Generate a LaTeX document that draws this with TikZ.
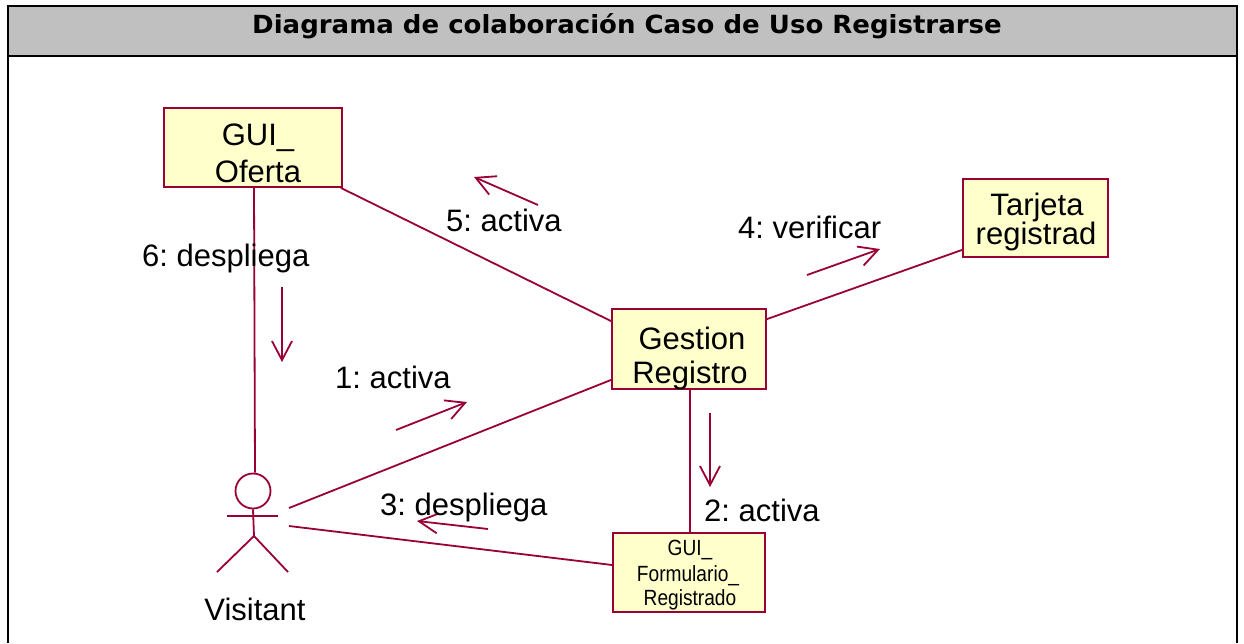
\documentclass[tikz,border=0pt]{standalone}
\usepackage{fontspec}
\usepackage{graphicx}
\setmainfont{Liberation Sans}
\newfontfamily\hdrfont{DejaVu Sans}
\usetikzlibrary{arrows.meta}
\definecolor{umlred}{HTML}{990033}
\definecolor{umlfill}{HTML}{FFFFCC}
\definecolor{hdrgray}{HTML}{C0C0C0}
\frenchspacing
\begin{document}
\begin{tikzpicture}[x=1pt,y=-1pt,
  obj/.style={draw=umlred, fill=umlfill, line width=1.8pt, inner sep=0pt},
  boxtxt/.style={anchor=base, inner sep=0pt, font=\fontsize{31}{36}\selectfont},
  smalltxt/.style={anchor=base, inner sep=0pt, font=\fontsize{22}{25}\selectfont},
  lbl/.style={anchor=base west, inner sep=0pt, font=\fontsize{31}{36}\selectfont},
  link/.style={draw=umlred, line width=1.8pt},
  msg/.style={draw=umlred, line width=1.8pt, -{Straight Barb[length=19pt,width=20pt,line width=1.8pt]}},
]
\useasboundingbox (0,0) rectangle (1244,643);
\fill[white] (0,0) rectangle (1244,643);
% header
\fill[hdrgray] (8,6) rectangle (1237,56);
\draw[line width=2.2pt] (8,643) -- (8,6) -- (1237,6) -- (1237,643);
\draw[line width=2.2pt] (8,56) -- (1237,56);
\node[anchor=base, inner sep=0pt] (title) at (627,33) {\scalebox{1.04}[1]{\hdrfont\bfseries\fontsize{25}{29}\selectfont Diagrama de colaboración Caso de Uso Registrarse}};

% objects
\node[obj, minimum width=178pt, minimum height=79pt] (ofe) at (253,147.5) {};
\node[boxtxt] (ofe1) at (258,145) {GUI\_};
\node[boxtxt] (ofe2) at (258,182) {Oferta};

\node[obj, minimum width=154pt, minimum height=80pt] (ges) at (689,349) {};
\node[boxtxt] (ges1) at (692,349) {Gestion};
\node[boxtxt] (ges2) at (690,383) {Registro};

\node[obj, minimum width=145pt, minimum height=78pt] (tar) at (1035.5,218) {};
\node[boxtxt] (tar1) at (1037,215) {Tarjeta};
\node[boxtxt] (tar2) at (1036,244) {registrad};

\node[obj, minimum width=152pt, minimum height=79pt] (frm) at (689,572.5) {};
\node[smalltxt] (frm1) at (690,555) {\scalebox{0.87}[1]{GUI\_}};
\node[smalltxt] (frm2) at (688,581) {\scalebox{0.87}[1]{Formulario\_}};
\node[smalltxt] (frm3) at (690,605) {\scalebox{0.87}[1]{Registrado}};

% actor
\node[draw=umlred, line width=1.8pt, circle, minimum size=35pt, inner sep=0pt] (head) at (253,491) {};
\coordinate (hip) at (254,536);
\coordinate (armL) at (227,516);
\coordinate (armR) at (278,516);
\coordinate (legL) at (217,572);
\coordinate (legR) at (288,572);
\draw[link] (head.south) -- (hip);
\draw[link] (armL) -- (armR);
\draw[link] (legL) -- (hip) -- (legR);
\coordinate (visA) at (289,508);
\coordinate (visB) at (289,526);
\node[anchor=base, inner sep=0pt, font=\fontsize{31}{36}\selectfont] (vis) at (255,620) {Visitant};

% links
\draw[link] ([xshift=1pt]ofe.south) -- ([xshift=2pt]head.north);
\draw[link] ([xshift=-2pt]ofe.south east) -- ([yshift=-13pt]ges.north west);
\draw[link] ([yshift=-11pt]ges.north east) -- ([yshift=8pt]tar.south west);
\draw[link] ([yshift=10pt]ges.south west) -- (visA);
\draw[link] ([xshift=1pt]ges.south) -- ([xshift=1pt]frm.north);
\draw[link] (visB) -- ([yshift=7.5pt]frm.west);

% messages
\coordinate (m5a) at (538,205); \coordinate (m5b) at (474,177);
\coordinate (m4a) at (807,275); \coordinate (m4b) at (880,249);
\coordinate (m6a) at (282,287); \coordinate (m6b) at (282,362);
\coordinate (m1a) at (396,430); \coordinate (m1b) at (467,402);
\coordinate (m2a) at (710,413); \coordinate (m2b) at (710,487);
\coordinate (m3a) at (488,529); \coordinate (m3b) at (417,521);
\draw[msg] (m5a) -- (m5b);
\draw[msg] (m4a) -- (m4b);
\draw[msg] (m6a) -- (m6b);
\draw[msg] (m1a) -- (m1b);
\draw[msg] (m2a) -- (m2b);
\draw[msg] (m3a) -- (m3b);

\node[lbl] (l5) at (446,231) {5: activa};
\node[lbl] (l4) at (738,238) {4: verificar};
\node[lbl] (l6) at (142,266) {6: despliega};
\node[lbl] (l1) at (335,388) {1: activa};
\node[lbl] (l2) at (704,521) {2: activa};
\node[lbl] (l3) at (380,515) {3: despliega};
\end{tikzpicture}
\end{document}
